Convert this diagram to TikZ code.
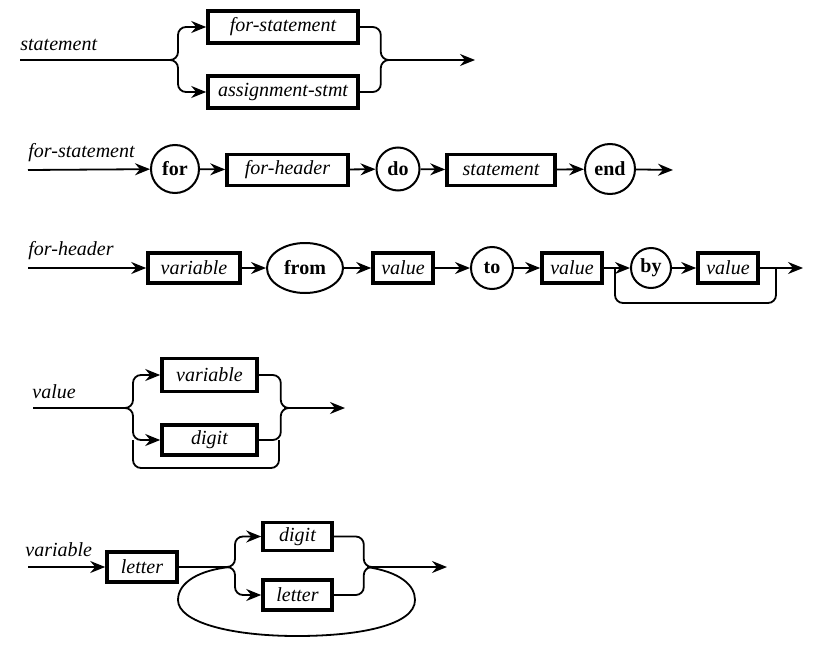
\documentclass[tikz,border=0pt]{standalone}
\usepackage{fontspec}
\setmainfont{Liberation Serif}
\usetikzlibrary{arrows.meta, shapes.geometric}

\begin{document}
\begin{tikzpicture}[
        x=0.5pt, y=-0.5pt,
        box/.style={draw, line width=1.8pt, inner sep=0pt, minimum height=15pt, font=\itshape},
        word/.style={draw, circle, line width=1pt, inner sep=0pt, font=\bfseries},
        lbl/.style={anchor=base west, inner sep=0pt, font=\itshape},
        line/.style={line width=0.9pt},
        arr/.style={line, -{Stealth[length=7.5pt, width=6pt, inset=2.5pt]}},
        brace/.style={line, rounded corners=4pt},
        brarr/.style={arr, rounded corners=4pt}
    ]
        \useasboundingbox (0,0) rectangle (839,647);

        % statement
        \node[lbl] (lstm) at (20,51) {statement};
        \node[box, minimum width=75pt, minimum height=16pt] (fs) at (283,27) {for-statement};
        \node[box, minimum width=75pt, minimum height=16pt] (as) at (283,92) {assignment-stmt};
        \coordinate (s1) at (20,60);
        \coordinate (j1) at (172,60);
        \coordinate (k1) at (385,60);
        \coordinate (e1) at (475,60);
        \draw[line] (s1) -- (j1);
        \draw[brarr] (j1) -- ++(6,0) |- (fs.west);
        \draw[brarr] (j1) -- ++(6,0) |- (as.west);
        \draw[brace] (fs.east) -- ++(21,0) |- (k1);
        \draw[brace] (as.east) -- ++(21,0) |- (k1);
        \draw[arr] (k1) -- (e1);

        % for-statement
        \node[lbl] (lfor) at (28,157) {for-statement};
        \node[word, minimum size=24pt] (kwfor) at (175,169) {for};
        \node[box, minimum width=60.5pt, minimum height=15.5pt] (fh) at (287.5,170) {for-header};
        \node[word, minimum size=21.5pt] (kwdo) at (398,169) {do};
        \node[box, minimum width=54pt, minimum height=15.5pt] (st) at (501,170) {statement};
        \node[word, minimum size=25pt] (kwend) at (610,169) {end};
        \coordinate (s2) at (28,170);
        \coordinate (e2) at (673,170);
        \draw[arr] (s2) -- (kwfor);
        \draw[arr] (kwfor) -- (fh);
        \draw[arr] (fh) -- (kwdo);
        \draw[arr] (kwdo) -- (st);
        \draw[arr] (st) -- (kwend);
        \draw[arr] (kwend) -- (e2);

        % for-header
        \node[lbl] (lhdr) at (28,255) {for-header};
        \node[box, minimum width=46pt] (vb) at (194,268) {variable};
        \node[word, ellipse, minimum width=38pt, minimum height=25pt] (from) at (305,268) {from};
        \node[box, minimum width=30pt] (v1) at (403,268) {value};
        \node[word, minimum size=21pt] (kwto) at (492,268) {to};
        \node[box, minimum width=30pt] (v2) at (572,268) {value};
        \node[word, minimum size=20pt] (kwby) at (651,268) {by};
        \node[box, minimum width=30pt] (v3) at (728,268) {value};
        \coordinate (s3) at (28,268);
        \coordinate (b1) at (615,268);
        \coordinate (b2) at (776,268);
        \coordinate (m3) at (700,303);
        \coordinate (e3) at (803,268);
        \draw[arr] (s3) -- (vb);
        \draw[arr] (vb) -- (from);
        \draw[arr] (from) -- (v1);
        \draw[arr] (v1) -- (kwto);
        \draw[arr] (kwto) -- (v2);
        \draw[arr] (v2) -- (kwby);
        \draw[arr] (kwby) -- (v3);
        \draw[arr] (v3) -- (e3);
        \draw[brace] (b1) |- (m3) -| (b2);

        % value
        \node[lbl] (lval) at (32,398) {value};
        \node[box, minimum width=47.5pt, minimum height=16.5pt] (var) at (209.5,375) {variable};
        \node[box, minimum width=47.5pt] (dg) at (209.5,440) {digit};
        \coordinate (s4) at (33,408);
        \coordinate (j4) at (128,408);
        \coordinate (k4) at (284,408);
        \coordinate (e4) at (345,408);
        \coordinate (r4) at (279,440);
        \coordinate (m4) at (206,468);
        \coordinate (l4) at (133,440);
        \draw[line] (s4) -- (j4);
        \draw[brarr] (j4) -- ++(5,0) |- (var.west);
        \draw[brarr] (j4) -- ++(5,0) |- (dg.west);
        \draw[brace] (var.east) -- ++(22,0) |- (k4);
        \draw[brace] (dg.east) -- ++(22,0) |- (k4);
        \draw[arr] (k4) -- (e4);
        \draw[brace] (r4) |- (m4) -| (l4);

        % variable
        \node[lbl] (lvar) at (25,556) {variable};
        \node[box, minimum width=35pt] (lt) at (142,567) {letter};
        \node[box, minimum width=34.5pt, minimum height=14pt] (dg2) at (297.5,536.5) {digit};
        \node[box, minimum width=34.5pt] (lt2) at (297.5,595) {letter};
        \coordinate (s5) at (28,567);
        \coordinate (j5) at (230,567);
        \coordinate (k5) at (367,567);
        \coordinate (e5) at (447,567);
        \draw[arr] (s5) -- (lt);
        \draw[line] (lt) -- (j5);
        \draw[brarr] (j5) -- ++(5,0) |- (dg2.west);
        \draw[brarr] (j5) -- ++(5,0) |- (lt2.west);
        \draw[brace] (dg2.east) -- ++(30,0) |- (k5);
        \draw[brace] (lt2.east) -- ++(30,0) |- (k5);
        \draw[arr] (k5) -- (e5);
        % loop back round the choice
        \draw[line] (k5) .. controls (400,572) and (415,585) .. (415,600)
            .. controls (415,625) and (360,636) .. (297,636)
            .. controls (230,636) and (178,622) .. (178,600)
            .. controls (178,582) and (200,570) .. (j5);
    \end{tikzpicture}
\end{document}
